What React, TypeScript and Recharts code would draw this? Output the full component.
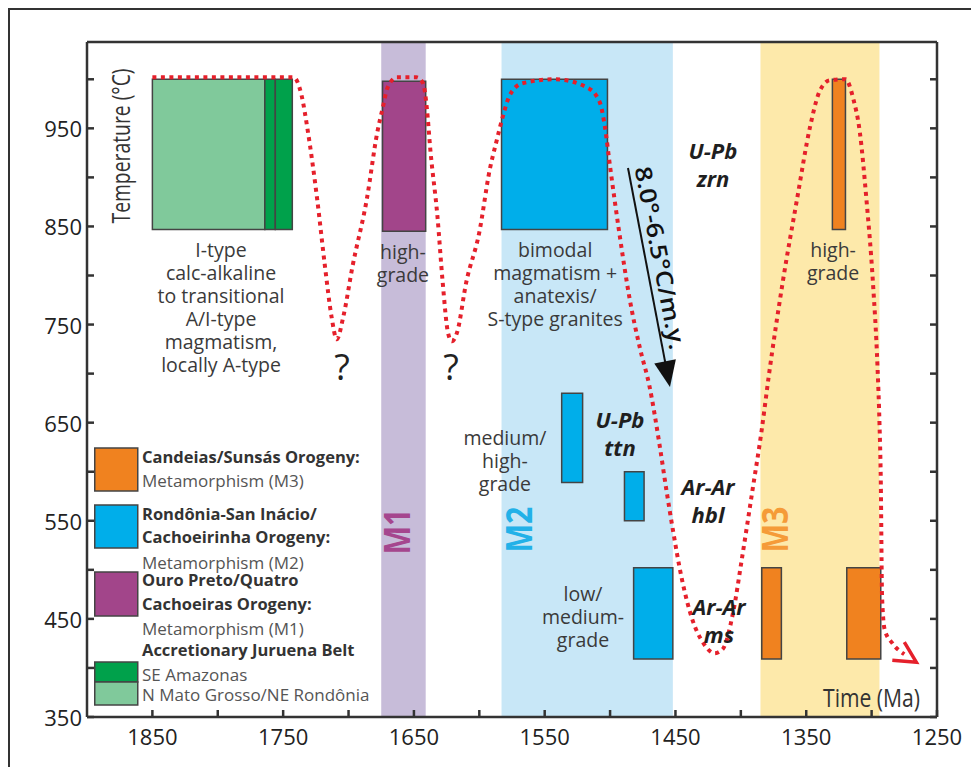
import React from 'react';
import {
  ComposedChart,
  Line,
  XAxis,
  YAxis,
  ReferenceArea,
  ReferenceDot,
  ReferenceLine,
  Legend,
} from 'recharts';

// ---------- axes ----------
const xDomain: [number, number] = [1250, 1900];
const yDomain: [number, number] = [350, 1038];
const xTicks = [1850, 1800, 1750, 1700, 1650, 1600, 1550, 1500, 1450, 1400, 1350, 1300, 1250];
const xTickLabels = [1850, 1750, 1650, 1550, 1450, 1350, 1250];
const yTicks = [350, 400, 450, 500, 550, 600, 650, 700, 750, 800, 850, 900, 950, 1000];
const yTickLabels = [350, 450, 550, 650, 750, 850, 950];
const yTitle = 'Temperature (°C)';
const xTitle = 'Time (Ma)';

// ---------- metamorphic episodes (background bands) ----------
const bandNames = ['M1', 'M2', 'M3'];
const bandStart = [1675, 1583, 1385];
const bandEnd = [1641, 1452, 1294];
const bandLabelAge = [1663, 1570, 1374];
const bandLabelTemp = [539, 541, 541];

// ---------- dated boxes ----------
const boxGroup = ['NMG', 'SEA', 'SEA', 'M1', 'M2', 'M3', 'M2', 'M2', 'M2', 'M3', 'M3'];
const boxAgeOld = [1850, 1764, 1756, 1674, 1583, 1330, 1537, 1489, 1482, 1384, 1319];
const boxAgeYoung = [1764, 1756, 1743, 1641, 1502, 1320, 1521, 1474, 1452, 1369, 1293];
const boxTempMin = [847, 847, 847, 845, 847, 847, 589, 550, 409, 409, 409];
const boxTempMax = [1000, 1000, 1000, 998, 1000, 1000, 680, 600, 502, 502, 502];

// ---------- T-t path ----------
const pathAge = [
  1850, 1742, 1736, 1731, 1724, 1718, 1713, 1709, 1704, 1697, 1686, 1678, 1674, 1670, 1663,
  1648, 1643, 1640, 1637.5, 1632, 1628, 1624, 1621, 1617, 1610, 1600, 1592, 1587, 1582, 1577,
  1567, 1542, 1518, 1508, 1504, 1500, 1493, 1485, 1477, 1470, 1462, 1457, 1452, 1445, 1437,
  1429, 1420, 1414, 1406, 1399, 1391, 1384, 1379, 1368, 1357, 1347, 1340, 1332, 1320, 1314,
  1309, 1304, 1299, 1295.5, 1294, 1293, 1292, 1290, 1284, 1275,
];
const pathTemp = [
  1002, 1002, 984, 946, 878, 809, 758, 735, 758, 809, 878, 946, 970, 992, 1002,
  1002, 996, 969, 929, 860, 793, 742, 733, 742, 793, 844, 908, 936, 962, 983,
  996, 1000, 992, 977, 952, 911, 844, 776, 725, 688, 626, 582, 541, 490, 449,
  426, 415, 419, 456, 513, 582, 643, 694, 793, 878, 952, 987, 999, 1000, 980,
  946, 878, 793, 707, 650, 592, 472, 439, 425, 414,
];

// ---------- cooling-rate arrow ----------
const rateAge = [1486.3, 1454.2];
const rateTemp = [909.6, 686.4];
const rateLabel = '8.0°-6.5°C/m.y.';
const rateLabelAge = 1461;
const rateLabelTemp = 818;

// ---------- annotations ----------
const noteLines = [
  ['I-type', 'calc-alkaline', 'to transitional', 'A/I-type', 'magmatism,', 'locally A-type'],
  ['high-', 'grade'],
  ['bimodal', 'magmatism +', 'anatexis/', 'S-type granites'],
  ['high-', 'grade'],
  ['medium/', 'high-', 'grade'],
  ['low/', 'medium-', 'grade'],
  ['U-Pb', 'zrn'],
  ['U-Pb', 'ttn'],
  ['Ar-Ar', 'hbl'],
  ['Ar-Ar', 'ms'],
  ['?'],
  ['?'],
];
const noteKind = ['note', 'note', 'note', 'note', 'note', 'note', 'method', 'method', 'method', 'method', 'q', 'q'];
const noteAge = [1797.5, 1658.4, 1542, 1329.5, 1580.4, 1520.7, 1421.3, 1492.4, 1425.1, 1416.7, 1705, 1621.7];
const noteTemp = [827, 824, 826, 826, 635, 476, 928, 654, 585.5, 463, 707, 707];

// ---------- legend ----------
const legendGroups = ['M3', 'M2', 'M1', 'SEA', 'NMG'];
const legendBold = [
  ['Candeias/Sunsás Orogeny:'],
  ['Rondônia-San Inácio/', 'Cachoeirinha Orogeny:'],
  ['Ouro Preto/Quatro', 'Cachoeiras Orogeny:'],
  ['Accretionary Juruena Belt'],
  [],
];
const legendRegular = [
  ['Metamorphism (M3)'],
  ['Metamorphism (M2)'],
  ['Metamorphism (M1)'],
  ['SE Amazonas'],
  ['N Mato Grosso/NE Rondônia'],
];

// ---------- styles ----------
const FONT = "'Open Sans', 'DejaVu Sans', sans-serif";
const BOX_FILL: Record<string, string> = {
  NMG: '#80c99b',
  SEA: '#00a14b',
  M1: '#a2458a',
  M2: '#00aeea',
  M3: '#f0821f',
};
const BAND_FILL = ['#c7bcd9', '#c8e7f7', '#fde9aa'];
const BAND_TEXT = ['#a5468e', '#22b1e8', '#f59b38'];
const AXIS = '#333333';
const RED = '#e5202b';
const TEXT_STYLE: Record<string, any> = {
  note: { fontSize: 19.5, fill: '#3a3a3a', fontWeight: 400, fontStyle: 'normal', lh: 23 },
  method: { fontSize: 22, fill: '#1f1f1f', fontWeight: 700, fontStyle: 'italic', lh: 28 },
  q: { fontSize: 36, fill: '#222', fontWeight: 400, fontStyle: 'normal', lh: 0 },
};

const curveData = pathAge.map((t, i) => ({ t, T: pathTemp[i] }));

const XTick = (side: 'top' | 'bottom') => (props: any) => {
  const { x, y, payload } = props;
  const dir = side === 'bottom' ? -1 : 1;
  const show = side === 'bottom' && xTickLabels.includes(payload.value);
  return (
    <g>
      <line x1={x} x2={x} y1={y} y2={y + dir * 7} stroke={AXIS} strokeWidth={2.5} />
      {show && (
        <text x={x} y={y + 19} textAnchor="middle" dominantBaseline="central" fontFamily={FONT} fontSize={22} fill="#222">
          {payload.value}
        </text>
      )}
    </g>
  );
};

const YTick = (side: 'left' | 'right') => (props: any) => {
  const { x, y, payload } = props;
  const dir = side === 'left' ? 1 : -1;
  const show = side === 'left' && yTickLabels.includes(payload.value);
  return (
    <g>
      <line x1={x} x2={x + dir * 7} y1={y} y2={y} stroke={AXIS} strokeWidth={2.5} />
      {show && (
        <text x={x - 5} y={y} textAnchor="end" dominantBaseline="central" fontFamily={FONT} fontSize={22} fill="#222">
          {payload.value}
        </text>
      )}
    </g>
  );
};

const renderPathEnd = (props: any) => {
  const { cx, cy, index } = props;
  if (index !== curveData.length - 1 || cx == null) return <g key={`d${index}`} />;
  return (
    <path
      key={`d${index}`}
      d={`M${cx - 12},${cy + 6} L${cx + 12},${cy + 8} L${cx},${cy - 12}`}
      fill="none"
      stroke={RED}
      strokeWidth={3.5}
      strokeDasharray="none"
      strokeLinejoin="miter"
    />
  );
};

const ArrowShape = (p: any) => {
  const { x1, y1, x2, y2 } = p;
  const dx = x2 - x1;
  const dy = y2 - y1;
  const len = Math.sqrt(dx * dx + dy * dy) || 1;
  const ux = dx / len;
  const uy = dy / len;
  const hl = 26;
  const hw = 11;
  const bx = x2 - ux * hl;
  const by = y2 - uy * hl;
  return (
    <g>
      <line x1={x1} y1={y1} x2={x2 - ux * 20} y2={y2 - uy * 20} stroke="#111" strokeWidth={2} />
      <polygon points={`${x2},${y2} ${bx - uy * hw},${by + ux * hw} ${bx + uy * hw},${by - ux * hw}`} fill="#111" />
    </g>
  );
};

const noteShape = (i: number) => (props: any) => {
  const { cx, cy } = props;
  const st = TEXT_STYLE[noteKind[i]];
  return (
    <g>
      {noteLines[i].map((l, k) => (
        <text
          key={k}
          x={cx}
          y={cy + k * st.lh}
          textAnchor="middle"
          dominantBaseline="central"
          fontFamily={FONT}
          fontSize={st.fontSize}
          fontWeight={st.fontWeight}
          fontStyle={st.fontStyle}
          fill={st.fill}
        >
          {l}
        </text>
      ))}
    </g>
  );
};

const bandLabelShape = (i: number) => (props: any) => {
  const { cx, cy } = props;
  return (
    <text
      x={cx}
      y={cy}
      transform={`rotate(-90 ${cx} ${cy})`}
      textAnchor="middle"
      dominantBaseline="central"
      fontFamily={FONT}
      fontSize={36}
      fontWeight={700}
      fill={BAND_TEXT[i]}
      textLength={46}
      lengthAdjust="spacingAndGlyphs"
    >
      {bandNames[i]}
    </text>
  );
};

const rateShape = (props: any) => {
  const { cx, cy } = props;
  return (
    <text
      x={cx}
      y={cy}
      transform={`rotate(79 ${cx} ${cy})`}
      textAnchor="middle"
      dominantBaseline="central"
      fontFamily={FONT}
      fontSize={23}
      fontWeight={600}
      fill="#111"
      textLength={186}
      lengthAdjust="spacingAndGlyphs"
    >
      {rateLabel}
    </text>
  );
};

const LegendContent = () => {
  const swatchY = [8, 65, 132, 222, 242];
  const swatchH = [43, 43, 44, 20, 23];
  const rows: { text: string; bold: boolean; y: number }[] = [];
  const rowY = [16, 40, 73, 96, 122, 139, 163, 188, 209, 234, 254];
  let r = 0;
  legendGroups.forEach((g, i) => {
    legendBold[i].forEach((t) => rows.push({ text: t, bold: true, y: rowY[r++] }));
    legendRegular[i].forEach((t) => rows.push({ text: t, bold: false, y: rowY[r++] }));
  });
  return (
    <svg width={320} height={275} style={{ overflow: 'visible' }}>
      {legendGroups.map((g, i) => (
        <rect key={g} x={0.75} y={swatchY[i]} width={43} height={swatchH[i]} fill={BOX_FILL[g]} stroke="#444" strokeWidth={1.5} />
      ))}
      {rows.map((row, k) => (
        <text
          key={k}
          x={48}
          y={row.y}
          dominantBaseline="central"
          fontFamily={FONT}
          fontSize={row.bold ? 16.5 : 17}
          fontWeight={row.bold ? 700 : 400}
          fill={row.bold ? '#333' : '#555'}
        >
          {row.text}
        </text>
      ))}
    </svg>
  );
};

export default function App() {
  return (
    <div style={{ position: 'relative', width: 971, height: 759, fontFamily: FONT }}>
      <ComposedChart width={971} height={759} margin={{ top: 33, left: 78, right: 41, bottom: 49 }}>
        <XAxis
          dataKey="t"
          type="number"
          domain={xDomain}
          reversed
          allowDataOverflow
          ticks={xTicks}
          interval={0}
          tickSize={0}
          tickMargin={0}
          tickLine={false}
          tick={XTick('bottom')}
          axisLine={{ stroke: AXIS, strokeWidth: 2.5 }}
          height={1}
          label={{
            content: (p: any) => {
              const vb = p.viewBox || { x: 79, y: 709, width: 850 };
              return (
                <text
                  x={vb.x + vb.width - 17}
                  y={vb.y - 20}
                  textAnchor="end"
                  dominantBaseline="central"
                  fontFamily={FONT}
                  fontSize={25}
                  fill="#333"
                  textLength={97}
                  lengthAdjust="spacingAndGlyphs"
                >
                  {xTitle}
                </text>
              );
            },
          }}
        />
        <XAxis
          xAxisId="top"
          orientation="top"
          type="number"
          domain={xDomain}
          reversed
          allowDataOverflow
          ticks={xTicks}
          interval={0}
          tickSize={0}
          tickMargin={0}
          tickLine={false}
          tick={XTick('top')}
          axisLine={{ stroke: AXIS, strokeWidth: 2.5 }}
          height={1}
        />
        <YAxis
          type="number"
          domain={yDomain}
          allowDataOverflow
          ticks={yTicks}
          interval={0}
          tickSize={0}
          tickMargin={0}
          tickLine={false}
          tick={YTick('left')}
          axisLine={{ stroke: AXIS, strokeWidth: 2.5 }}
          width={1}
          label={{
            content: (p: any) => {
              const vb = p.viewBox || { x: 78, y: 34, width: 1 };
              const cx = vb.x + vb.width + 33;
              const cy = vb.y + 104;
              return (
                <text
                  x={cx}
                  y={cy}
                  transform={`rotate(-90 ${cx} ${cy})`}
                  textAnchor="middle"
                  dominantBaseline="central"
                  fontFamily={FONT}
                  fontSize={25}
                  fill="#333"
                  textLength={155}
                  lengthAdjust="spacingAndGlyphs"
                >
                  {yTitle}
                </text>
              );
            },
          }}
        />
        <YAxis
          yAxisId="right"
          orientation="right"
          type="number"
          domain={yDomain}
          allowDataOverflow
          ticks={yTicks}
          interval={0}
          tickSize={0}
          tickMargin={0}
          tickLine={false}
          tick={YTick('right')}
          axisLine={{ stroke: AXIS, strokeWidth: 2.5 }}
          width={1}
        />

        {bandNames.map((n, i) => (
          <ReferenceArea
            key={n}
            x1={bandStart[i]}
            x2={bandEnd[i]}
            y1={yDomain[0]}
            y2={yDomain[1]}
            fill={BAND_FILL[i]}
            fillOpacity={1}
            stroke="none"
            ifOverflow="visible"
          />
        ))}
        {boxGroup.map((g, i) => (
          <ReferenceArea
            key={`box${i}`}
            x1={boxAgeOld[i]}
            x2={boxAgeYoung[i]}
            y1={boxTempMin[i]}
            y2={boxTempMax[i]}
            fill={BOX_FILL[g]}
            fillOpacity={1}
            stroke="#444"
            strokeWidth={1.5}
            ifOverflow="visible"
          />
        ))}

        {bandNames.map((n, i) => (
          <ReferenceDot key={`bl${n}`} x={bandLabelAge[i]} y={bandLabelTemp[i]} shape={bandLabelShape(i)} ifOverflow="visible" />
        ))}
        {noteLines.map((_, i) => (
          <ReferenceDot key={`n${i}`} x={noteAge[i]} y={noteTemp[i]} shape={noteShape(i)} ifOverflow="visible" />
        ))}

        <Line
          data={curveData}
          dataKey="T"
          type="monotoneX"
          stroke={RED}
          strokeWidth={4}
          strokeDasharray="4 4.5"
          dot={renderPathEnd}
          activeDot={false}
          isAnimationActive={false}
          legendType="none"
        />

        <ReferenceLine
          segment={[
            { x: rateAge[0], y: rateTemp[0] },
            { x: rateAge[1], y: rateTemp[1] },
          ]}
          shape={ArrowShape}
          ifOverflow="visible"
        />
        <ReferenceDot x={rateLabelAge} y={rateLabelTemp} shape={rateShape} ifOverflow="visible" />

        <Legend
          layout="vertical"
          align="center"
          verticalAlign="middle"
          content={() => <LegendContent />}
          wrapperStyle={{ left: 86, top: 432, width: 320, height: 275 }}
        />
      </ComposedChart>
      <div
        style={{
          position: 'absolute',
          left: 0,
          top: 0,
          right: 0,
          bottom: 0,
          borderTop: '2px solid #333',
          borderLeft: '2px solid #333',
          pointerEvents: 'none',
        }}
      />
    </div>
  );
}
